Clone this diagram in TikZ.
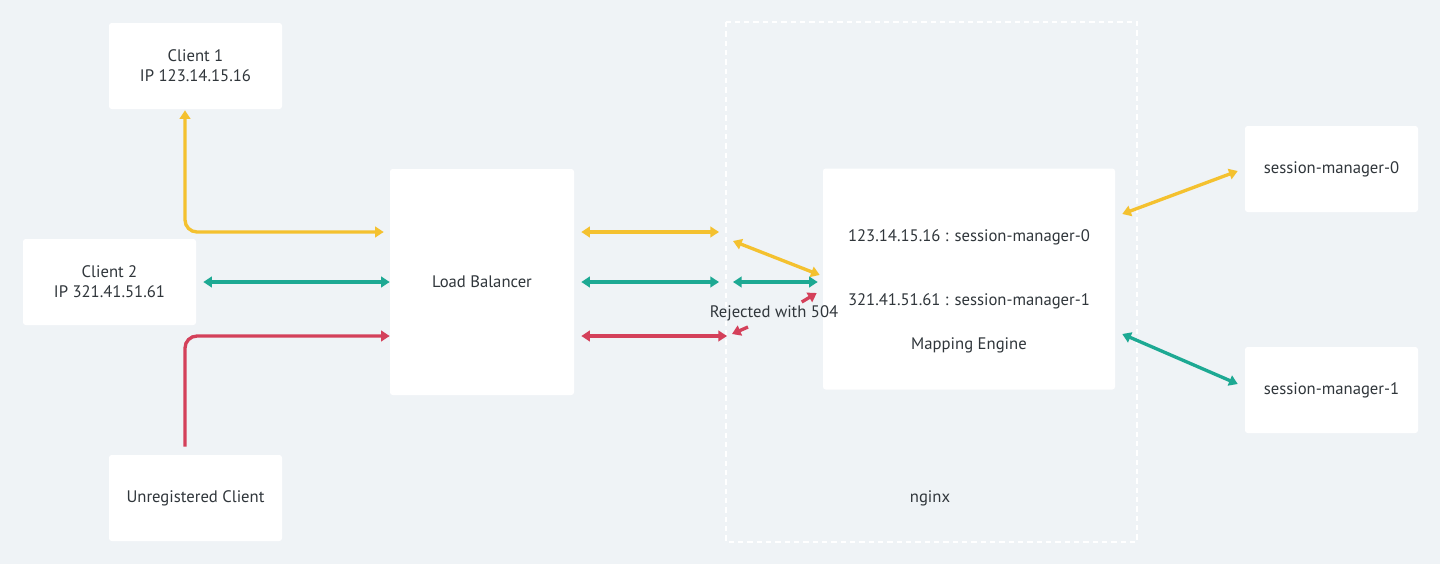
\documentclass[tikz,border=0pt]{standalone}
\usepackage{fontspec}
\setmainfont{PT Sans}
\usetikzlibrary{calc}
\usetikzlibrary{positioning}
\usetikzlibrary{arrows.meta}

\definecolor{bgcol}{HTML}{EFF3F6}
\definecolor{ylwc}{HTML}{F4C12F}
\definecolor{tealc}{HTML}{1DA993}
\definecolor{redc}{HTML}{D4405A}
\definecolor{txtc}{HTML}{30363B}

\tikzset{
  box/.style={fill=white, rounded corners=2pt, inner sep=0pt, text=txtc,
    align=center, font=\fontsize{12.5}{15}\selectfont},
  small box/.style={box, minimum width=129.75pt, minimum height=64.5pt},
  txtlabel/.style={text=txtc, inner sep=0pt, font=\fontsize{12.5}{15}\selectfont},
  link/.style={line width=2.5pt, {Triangle[length=6.5pt,width=8pt]}-{Triangle[length=6.5pt,width=8pt]}},
  oneway/.style={line width=2.5pt, -{Triangle[length=6.5pt,width=8pt]}},
}

\begin{document}
\begin{tikzpicture}[x=0.75pt,y=-0.75pt]
    \fill [bgcol] (0,0) rectangle (1440,564);
    \useasboundingbox (0,0) rectangle (1440,564);

    % nginx area
    \draw [white, line width=0.8pt, dash pattern=on 4pt off 3pt] (726,22) rectangle (1137,542);
    \node [txtlabel] (nginx) at (930,498) {nginx};

    % clients
    \node [small box] (client1) at (195.5,66)  {Client 1\\IP 123.14.15.16};
    \node [small box] (client2) at (109.5,282) {Client 2\\IP 321.41.51.61};
    \node [small box] (unreg)   at (195.5,498) {Unregistered Client};

    \node [box, minimum width=138pt, minimum height=169.5pt] (lb) at (482,282) {Load Balancer};

    \node [box, minimum width=219pt, minimum height=165.75pt] (engine) at (969,279) {};
    \node [txtlabel] (map0) at (969,237) {123.14.15.16 : session-manager-0};
    \node [txtlabel] (map1) at (969,301) {321.41.51.61 : session-manager-1};
    \node [txtlabel] (mapname) at (969,345) {Mapping Engine};

    \node [small box] (sm0) at (1331.5,169) {session-manager-0};
    \node [small box] (sm1) at (1331.5,390) {session-manager-1};

    % free ends between load balancer and nginx
    \coordinate (ylwend)  at (719,232);
    \coordinate (tealend) at (719,282);
    \coordinate (redend)  at (727,336);
    \coordinate (ylwin)   at (733,241);
    \coordinate (tealin)  at (733,282);

    % client side
    \draw [link, ylwc, rounded corners=9pt] ($(client1.south)+(-10.5,1)$) |- ($(lb.west)+(-6,-50)$);
    \draw [link, tealc] ($(client2.east)+(7,0)$) -- (lb.west);
    \draw [oneway, redc, rounded corners=9pt] ($(unreg.north)+(-10.5,-8)$) |- ($(lb.west)+(0,54)$);

    % load balancer to nginx
    \draw [link, ylwc]  ($(lb.east)+(7,-50)$) -- (ylwend);
    \draw [link, tealc] ($(lb.east)+(7,0)$)   -- (tealend);
    \draw [link, redc]  ($(lb.east)+(7,54)$)  -- (redend);

    \draw [link, ylwc]  (ylwin)  -- ($(engine.west)+(-3,-4)$);
    \draw [link, tealc] (tealin) -- ($(engine.west)+(-5,3)$);

    % rejected
    \draw [oneway, redc] ($(engine.west)+(-21,23)$) -- ($(engine.west)+(-6,14)$);
    \draw [oneway, redc] ($(redend)+(21,-9)$) -- ($(redend)+(5,-2)$);
    \node [txtlabel] (rejected) at (774,313) {Rejected with 504};

    % engine to session managers
    \draw [link, ylwc]  ($(engine.east)+(7,-65)$) -- ($(sm0.west)+(-7,2)$);
    \draw [link, tealc] ($(engine.east)+(7,55)$)  -- ($(sm1.west)+(-7,-6)$);
\end{tikzpicture}
\end{document}
